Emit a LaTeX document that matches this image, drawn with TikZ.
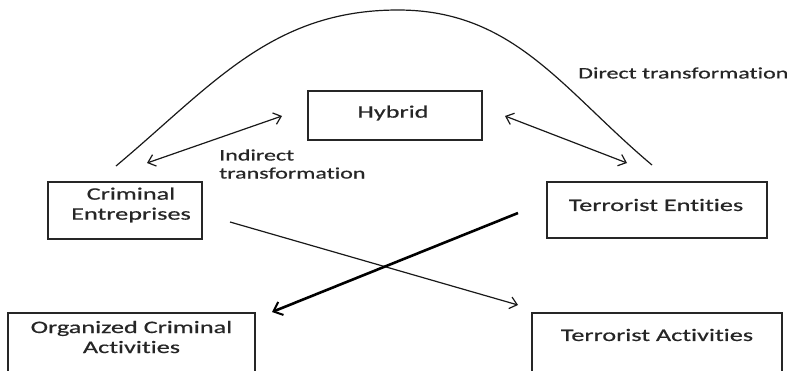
\documentclass[tikz,border=0pt]{standalone}
\usepackage{fontspec}
\setmainfont[FakeStretch=1.5,FakeBold=0.6,Ligatures=NoCommon]{Carlito}
\usetikzlibrary{arrows.meta}
\definecolor{txt}{HTML}{262626}
\tikzset{
  box/.style={draw=black!85, line width=1.5pt, rectangle, inner sep=0pt},
  lbl/.style={text=txt, font=\fontsize{17.5}{20}\selectfont, align=center, inner sep=0pt},
  small/.style={text=txt, font=\fontsize{16}{18}\selectfont, align=left, inner sep=0pt},
  conn/.style={line width=1.2pt, black!90},
  tip/.style={-{Straight Barb[length=7pt,width=12pt,line width=1.2pt]}},
  dtip/.style={{Straight Barb[length=7pt,width=12pt,line width=1.2pt]}-{Straight Barb[length=7pt,width=12pt,line width=1.2pt]}},
}
\begin{document}
\begin{tikzpicture}[x=1pt,y=-1pt]
\clip (0,0) rectangle (796,370);
\fill[white] (0,0) rectangle (796,370);
% boxes
\node[box, minimum width=174pt, minimum height=49pt] (hy) at (395,115.5) {};
\node[box, minimum width=154pt, minimum height=57pt] (ce) at (125,210.5) {};
\node[box, minimum width=220pt, minimum height=56pt] (te) at (657,210) {};
\node[box, minimum width=247pt, minimum height=80pt] (oc) at (131.5,353) {};
\node[box, minimum width=250pt, minimum height=80pt] (ta) at (657,353) {};
% labels
\node[lbl] (hyt) at (393,113) {Hybrid};
\node[lbl] (cet) at (131,205) {Criminal\\Entreprises};
\node[lbl] (tet) at (656,205) {Terrorist Entities};
\node[lbl] (oct) at (131.5,337) {Organized Criminal\\Activities};
\node[lbl] (tat) at (657,335) {Terrorist Activities};
\node[small, anchor=west] (dt) at (578,73) {Direct transformation};
\node[small, anchor=west] (it) at (219,164) {Indirect\\transformation};
% connector end points
\coordinate (d1) at (116,166);
\coordinate (dp) at (398,10);
\coordinate (d2) at (652,165);
\coordinate (i1) at (147,163);
\coordinate (i2) at (282,116);
\coordinate (j1) at (505,116);
\coordinate (j2) at (627,163);
\coordinate (x1) at (230,222);
\coordinate (x2) at (518,305);
\coordinate (y1) at (518,213);
\coordinate (y2) at (272,312);
% connectors
\draw[conn] (d1) to[out=40,in=180] (dp) to[out=0,in=140] (d2);
\draw[conn, dtip] (i1) -- (i2);
\draw[conn, dtip] (j1) -- (j2);
\draw[conn, tip] (x1) -- (x2);
\draw[line width=2.6pt, black, -{Straight Barb[length=8pt,width=14pt,line width=2pt]}] (y1) -- (y2);
\end{tikzpicture}
\end{document}
